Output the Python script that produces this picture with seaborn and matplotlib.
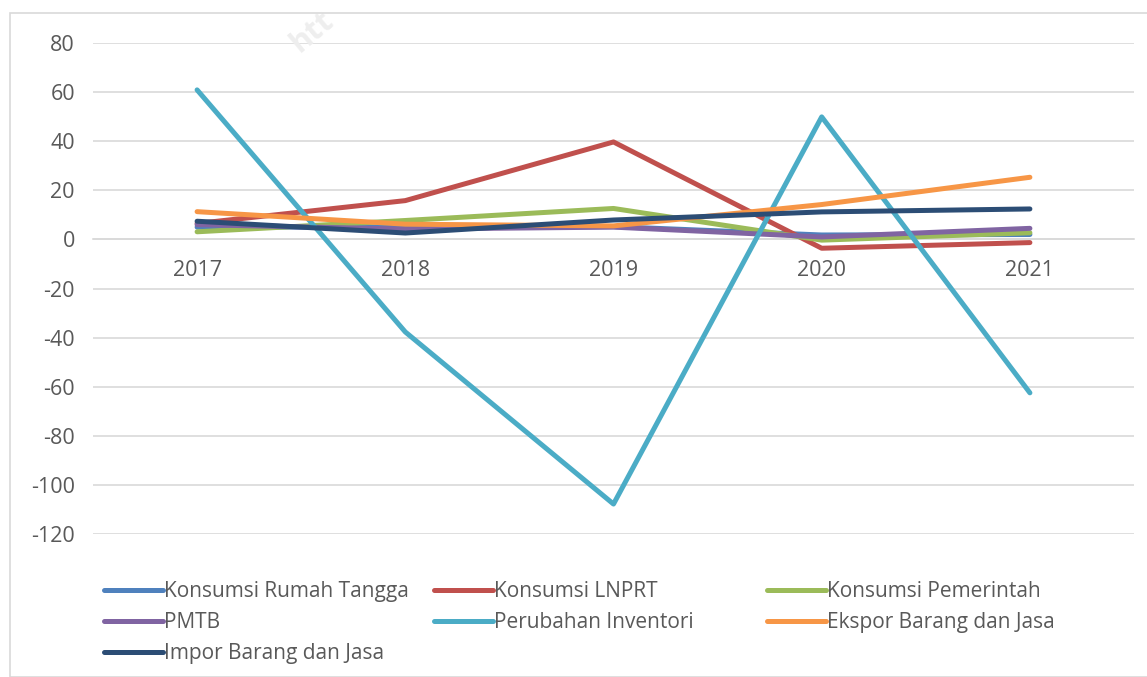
import matplotlib.pyplot as plt
import seaborn as sns
import pandas as pd
from matplotlib.patches import Rectangle
from matplotlib.lines import Line2D

# values
years = ['2017', '2018', '2019', '2020', '2021']
rumah_tangga = [5.0, 5.0, 5.2, 1.8, 2.0]
lnprt = [6.5, 15.8, 39.7, -3.6, -1.3]
pemerintah = [3.1, 7.7, 12.6, -0.3, 2.7]
pmtb = [6.0, 4.2, 5.0, 1.0, 4.5]
inventori = [60.9, -37.7, -107.8, 49.9, -62.5]
ekspor = [11.3, 6.2, 5.5, 14.2, 25.3]
impor = [7.4, 2.6, 7.9, 11.2, 12.4]
y_ticks = [-120, -100, -80, -60, -40, -20, 0, 20, 40, 60, 80]

series = {
    'Konsumsi Rumah Tangga': rumah_tangga,
    'Konsumsi LNPRT': lnprt,
    'Konsumsi Pemerintah': pemerintah,
    'PMTB': pmtb,
    'Perubahan Inventori': inventori,
    'Ekspor Barang dan Jasa': ekspor,
    'Impor Barang dan Jasa': impor,
}
colors = {
    'Konsumsi Rumah Tangga': '#4F81BD',
    'Konsumsi LNPRT': '#C0504D',
    'Konsumsi Pemerintah': '#9BBB59',
    'PMTB': '#8064A2',
    'Perubahan Inventori': '#4BACC6',
    'Ekspor Barang dan Jasa': '#F79646',
    'Impor Barang dan Jasa': '#2C4D75',
}

rows = []
for name, vals in series.items():
    for i, v in enumerate(vals):
        rows.append({'pos': i, 'value': v, 'series': name})
df = pd.DataFrame(rows)

sns.set_theme(style='white')
plt.rcParams['font.family'] = ['Open Sans', 'DejaVu Sans']
text_color = '#595959'
grid_color = '#D9D9D9'
lw = 3.6

fig = plt.figure(figsize=(11.47, 6.77), dpi=100)
ax = fig.add_axes([93 / 1147, 1 - 534 / 677, (1134 - 93) / 1147, (534 - 43) / 677])

sns.lineplot(data=df, x='pos', y='value', hue='series', palette=colors,
             hue_order=list(series.keys()), linewidth=lw, ax=ax, legend=False,
             solid_capstyle='round')

ax.set_xlim(-0.5, 4.5)
ax.set_ylim(-120, 80)
ax.set_yticks(y_ticks)
ax.set_yticklabels([str(t) for t in y_ticks])  # plain hyphen like Excel
ax.set_xticks(range(len(years)))
ax.set_xticklabels(years)
ax.set_xlabel('')
ax.set_ylabel('')
ax.yaxis.grid(True, color=grid_color, linewidth=1.2)
ax.set_axisbelow(True)
for side in ['top', 'right', 'left']:
    ax.spines[side].set_visible(False)
ax.spines['bottom'].set_position(('data', 0))
ax.spines['bottom'].set_color(grid_color)
ax.spines['bottom'].set_linewidth(1.2)
ax.spines['bottom'].set_zorder(0.5)
ax.tick_params(axis='x', length=0, pad=15, labelsize=15.5, labelcolor=text_color)
ax.tick_params(axis='y', length=0, pad=13, labelsize=15.5, labelcolor=text_color)

# legend, laid out in three equal columns like the original
columns = [
    ['Konsumsi Rumah Tangga', 'PMTB', 'Impor Barang dan Jasa'],
    ['Konsumsi LNPRT', 'Perubahan Inventori'],
    ['Konsumsi Pemerintah', 'Ekspor Barang dan Jasa'],
]
col_x = [104, 434, 767]
for cx, names in zip(col_x, columns):
    handles = [Line2D([], [], color=colors[n], linewidth=lw, solid_capstyle='round') for n in names]
    leg = fig.legend(handles, names, loc='upper left',
                     bbox_to_anchor=(cx / 1147, 1 - 581 / 677),
                     frameon=False, fontsize=15, handlelength=2.85,
                     handletextpad=0.05, labelspacing=0.48, borderpad=0,
                     borderaxespad=0)
    for t in leg.get_texts():
        t.set_color(text_color)

# faint watermark fragment near the top
fig.text(312 / 1147, 1 - 32 / 677, 'htt', rotation=40, fontsize=22,
         fontweight='bold', color='#EEEEEE', ha='center', va='center', zorder=0)

# outer chart border
fig.patches.append(Rectangle((10 / 1147, 0), 1.0, 1 - 13 / 677, transform=fig.transFigure,
                             fill=False, edgecolor=grid_color, linewidth=1.2))

fig.savefig('out.png', dpi=100)
